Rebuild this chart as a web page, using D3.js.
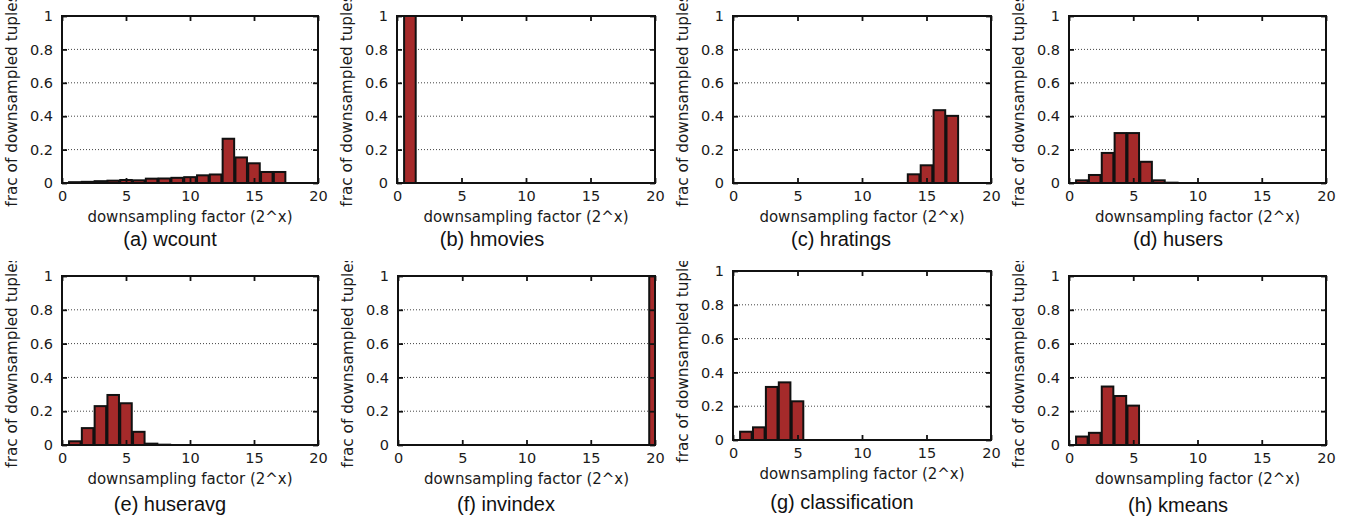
<!DOCTYPE html>
<html>
<head>
<meta charset="utf-8">
<script src="https://cdn.jsdelivr.net/npm/d3@7"></script>
<style>
  body { margin: 0; background: #fff; }
  svg { display: block; }
  .tick text { font-family: "DejaVu Sans", sans-serif; font-size: 14.5px; fill: #1a1a1a; }
</style>
</head>
<body>
<div id="chart"></div>
<script>
// data
const titles = ['(a) wcount', '(b) hmovies', '(c) hratings', '(d) husers',
  '(e) huseravg', '(f) invindex', '(g) classification', '(h) kmeans'];

const xTicks = [0, 5, 10, 15, 20];
const yTicks = [0, 0.2, 0.4, 0.6, 0.8, 1];
const yGrid = [0.2, 0.4, 0.6, 0.8];
const xLabel = 'downsampling factor (2^x)';
const yLabel = 'frac of downsampled tuples';

const wcountFactor = [1, 2, 3, 4, 5, 6, 7, 8, 9, 10, 11, 12, 13, 14, 15, 16, 17];
const wcountFrac = [0.005, 0.007, 0.011, 0.014, 0.018, 0.016, 0.026, 0.027, 0.031, 0.035, 0.046, 0.051, 0.265, 0.153, 0.118, 0.066, 0.066];

const hmoviesFactor = [1];
const hmoviesFrac = [1];

const hratingsFactor = [14, 15, 16, 17];
const hratingsFrac = [0.052, 0.106, 0.436, 0.402];

const husersFactor = [1, 2, 3, 4, 5, 6, 7, 8];
const husersFrac = [0.016, 0.048, 0.18, 0.299, 0.299, 0.127, 0.016, 0.002];

const huseravgFactor = [1, 2, 3, 4, 5, 6, 7, 8];
const huseravgFrac = [0.022, 0.1, 0.23, 0.296, 0.247, 0.078, 0.008, 0.002];

const invindexFactor = [20];
const invindexFrac = [1];

const classificationFactor = [1, 2, 3, 4, 5];
const classificationFrac = [0.049, 0.075, 0.314, 0.341, 0.229];

const kmeansFactor = [1, 2, 3, 4, 5];
const kmeansFrac = [0.05, 0.072, 0.346, 0.29, 0.233];

const factors = [wcountFactor, hmoviesFactor, hratingsFactor, husersFactor,
  huseravgFactor, invindexFactor, classificationFactor, kmeansFactor];
const fracs = [wcountFrac, hmoviesFrac, hratingsFrac, husersFrac,
  huseravgFrac, invindexFrac, classificationFrac, kmeansFrac];

// layout of each small plot (box edges, caption centre, clip top)
const layout = [
  { x0: 62, x1: 318, y0: 16, y1: 183, tx: 170, ty: 239, clip: 0 },
  { x0: 397, x1: 655, y0: 16, y1: 183, tx: 492, ty: 239, clip: 0 },
  { x0: 733, x1: 991, y0: 16, y1: 183, tx: 841, ty: 239, clip: 0 },
  { x0: 1069, x1: 1326, y0: 16, y1: 183, tx: 1178, ty: 239, clip: 0 },
  { x0: 62, x1: 318, y0: 276, y1: 445, tx: 170, ty: 504, clip: 261 },
  { x0: 398, x1: 655, y0: 276, y1: 445, tx: 506, ty: 504, clip: 261 },
  { x0: 733, x1: 991, y0: 271, y1: 440, tx: 842, ty: 502, clip: 261 },
  { x0: 1069, x1: 1326, y0: 276, y1: 445, tx: 1178, ty: 505, clip: 261 }
];

const width = 1349;
const height = 516;
const barColor = '#a52a2a';

const svg = d3.select('#chart')
  .append('svg')
  .attr('width', width)
  .attr('height', height);

const defs = svg.append('defs');

layout.forEach((L, i) => {
  const w = L.x1 - L.x0;
  const h = L.y1 - L.y0;

  const x = d3.scaleLinear().domain([0, 20]).range([0, w]);
  const y = d3.scaleLinear().domain([0, 1]).range([h, 0]);

  // clip for the plot area (bars) and for the panel (y label gets cut)
  defs.append('clipPath').attr('id', `plot-${i}`)
    .append('rect').attr('width', w).attr('height', h);
  defs.append('clipPath').attr('id', `panel-${i}`)
    .append('rect')
    .attr('x', -L.x0).attr('y', L.clip - L.y0)
    .attr('width', width).attr('height', height);

  const panel = svg.append('g')
    .attr('transform', `translate(${L.x0}, ${L.y0})`)
    .attr('clip-path', `url(#panel-${i})`);

  // dotted grid
  panel.append('g')
    .selectAll('line')
    .data(yGrid)
    .join('line')
    .attr('x1', 0)
    .attr('x2', w)
    .attr('y1', d => y(d))
    .attr('y2', d => y(d))
    .attr('stroke', '#444')
    .attr('stroke-width', 1)
    .attr('stroke-dasharray', '1,2');

  // bars
  const bw = x(0.9) - x(0);
  panel.append('g')
    .attr('clip-path', `url(#plot-${i})`)
    .selectAll('rect')
    .data(factors[i].map((f, j) => ({ f, v: fracs[i][j] })))
    .join('rect')
    .attr('x', d => x(d.f) - bw / 2)
    .attr('y', d => y(d.v))
    .attr('width', bw)
    .attr('height', d => y(0) - y(d.v))
    .attr('fill', barColor)
    .attr('stroke', '#111')
    .attr('stroke-width', 2);

  // axes, ticks pointing inward on all four sides
  const xAxis = d3.axisBottom(x).tickValues(xTicks).tickSize(-5).tickPadding(8).tickFormat(d3.format('d'));
  const yAxis = d3.axisLeft(y).tickValues(yTicks).tickSize(-5).tickPadding(9).tickFormat(d => String(d));

  panel.append('g')
    .attr('transform', `translate(0, ${h})`)
    .call(xAxis)
    .call(g => g.select('.domain').remove());

  panel.append('g')
    .call(yAxis)
    .call(g => g.select('.domain').remove());

  panel.append('g')
    .call(d3.axisTop(x).tickValues(xTicks).tickSize(-5).tickFormat(''))
    .call(g => g.select('.domain').remove());

  panel.append('g')
    .attr('transform', `translate(${w}, 0)`)
    .call(d3.axisRight(y).tickValues(yTicks).tickSize(-5).tickFormat(''))
    .call(g => g.select('.domain').remove());

  panel.selectAll('.tick line')
    .attr('stroke', '#111')
    .attr('stroke-width', 1.8);

  // frame
  panel.append('rect')
    .attr('width', w)
    .attr('height', h)
    .attr('fill', 'none')
    .attr('stroke', '#111')
    .attr('stroke-width', 2);

  // axis labels
  panel.append('text')
    .attr('x', w / 2)
    .attr('y', h + 34)
    .attr('dy', '0.35em')
    .attr('text-anchor', 'middle')
    .attr('font-family', 'DejaVu Sans, sans-serif')
    .attr('font-size', 15)
    .attr('fill', '#1a1a1a')
    .text(xLabel);

  panel.append('text')
    .attr('transform', `translate(-50, ${h / 2 + 1}) rotate(-90)`)
    .attr('dy', '0.35em')
    .attr('text-anchor', 'middle')
    .attr('font-family', 'DejaVu Sans, sans-serif')
    .attr('font-size', 15.3)
    .attr('fill', '#1a1a1a')
    .text(yLabel);

  // caption
  svg.append('text')
    .attr('x', L.tx)
    .attr('y', L.ty)
    .attr('dy', '0.35em')
    .attr('text-anchor', 'middle')
    .attr('font-family', 'Liberation Sans, Arial, sans-serif')
    .attr('font-size', 20)
    .attr('fill', '#111')
    .text(titles[i]);
});
</script>
</body>
</html>
